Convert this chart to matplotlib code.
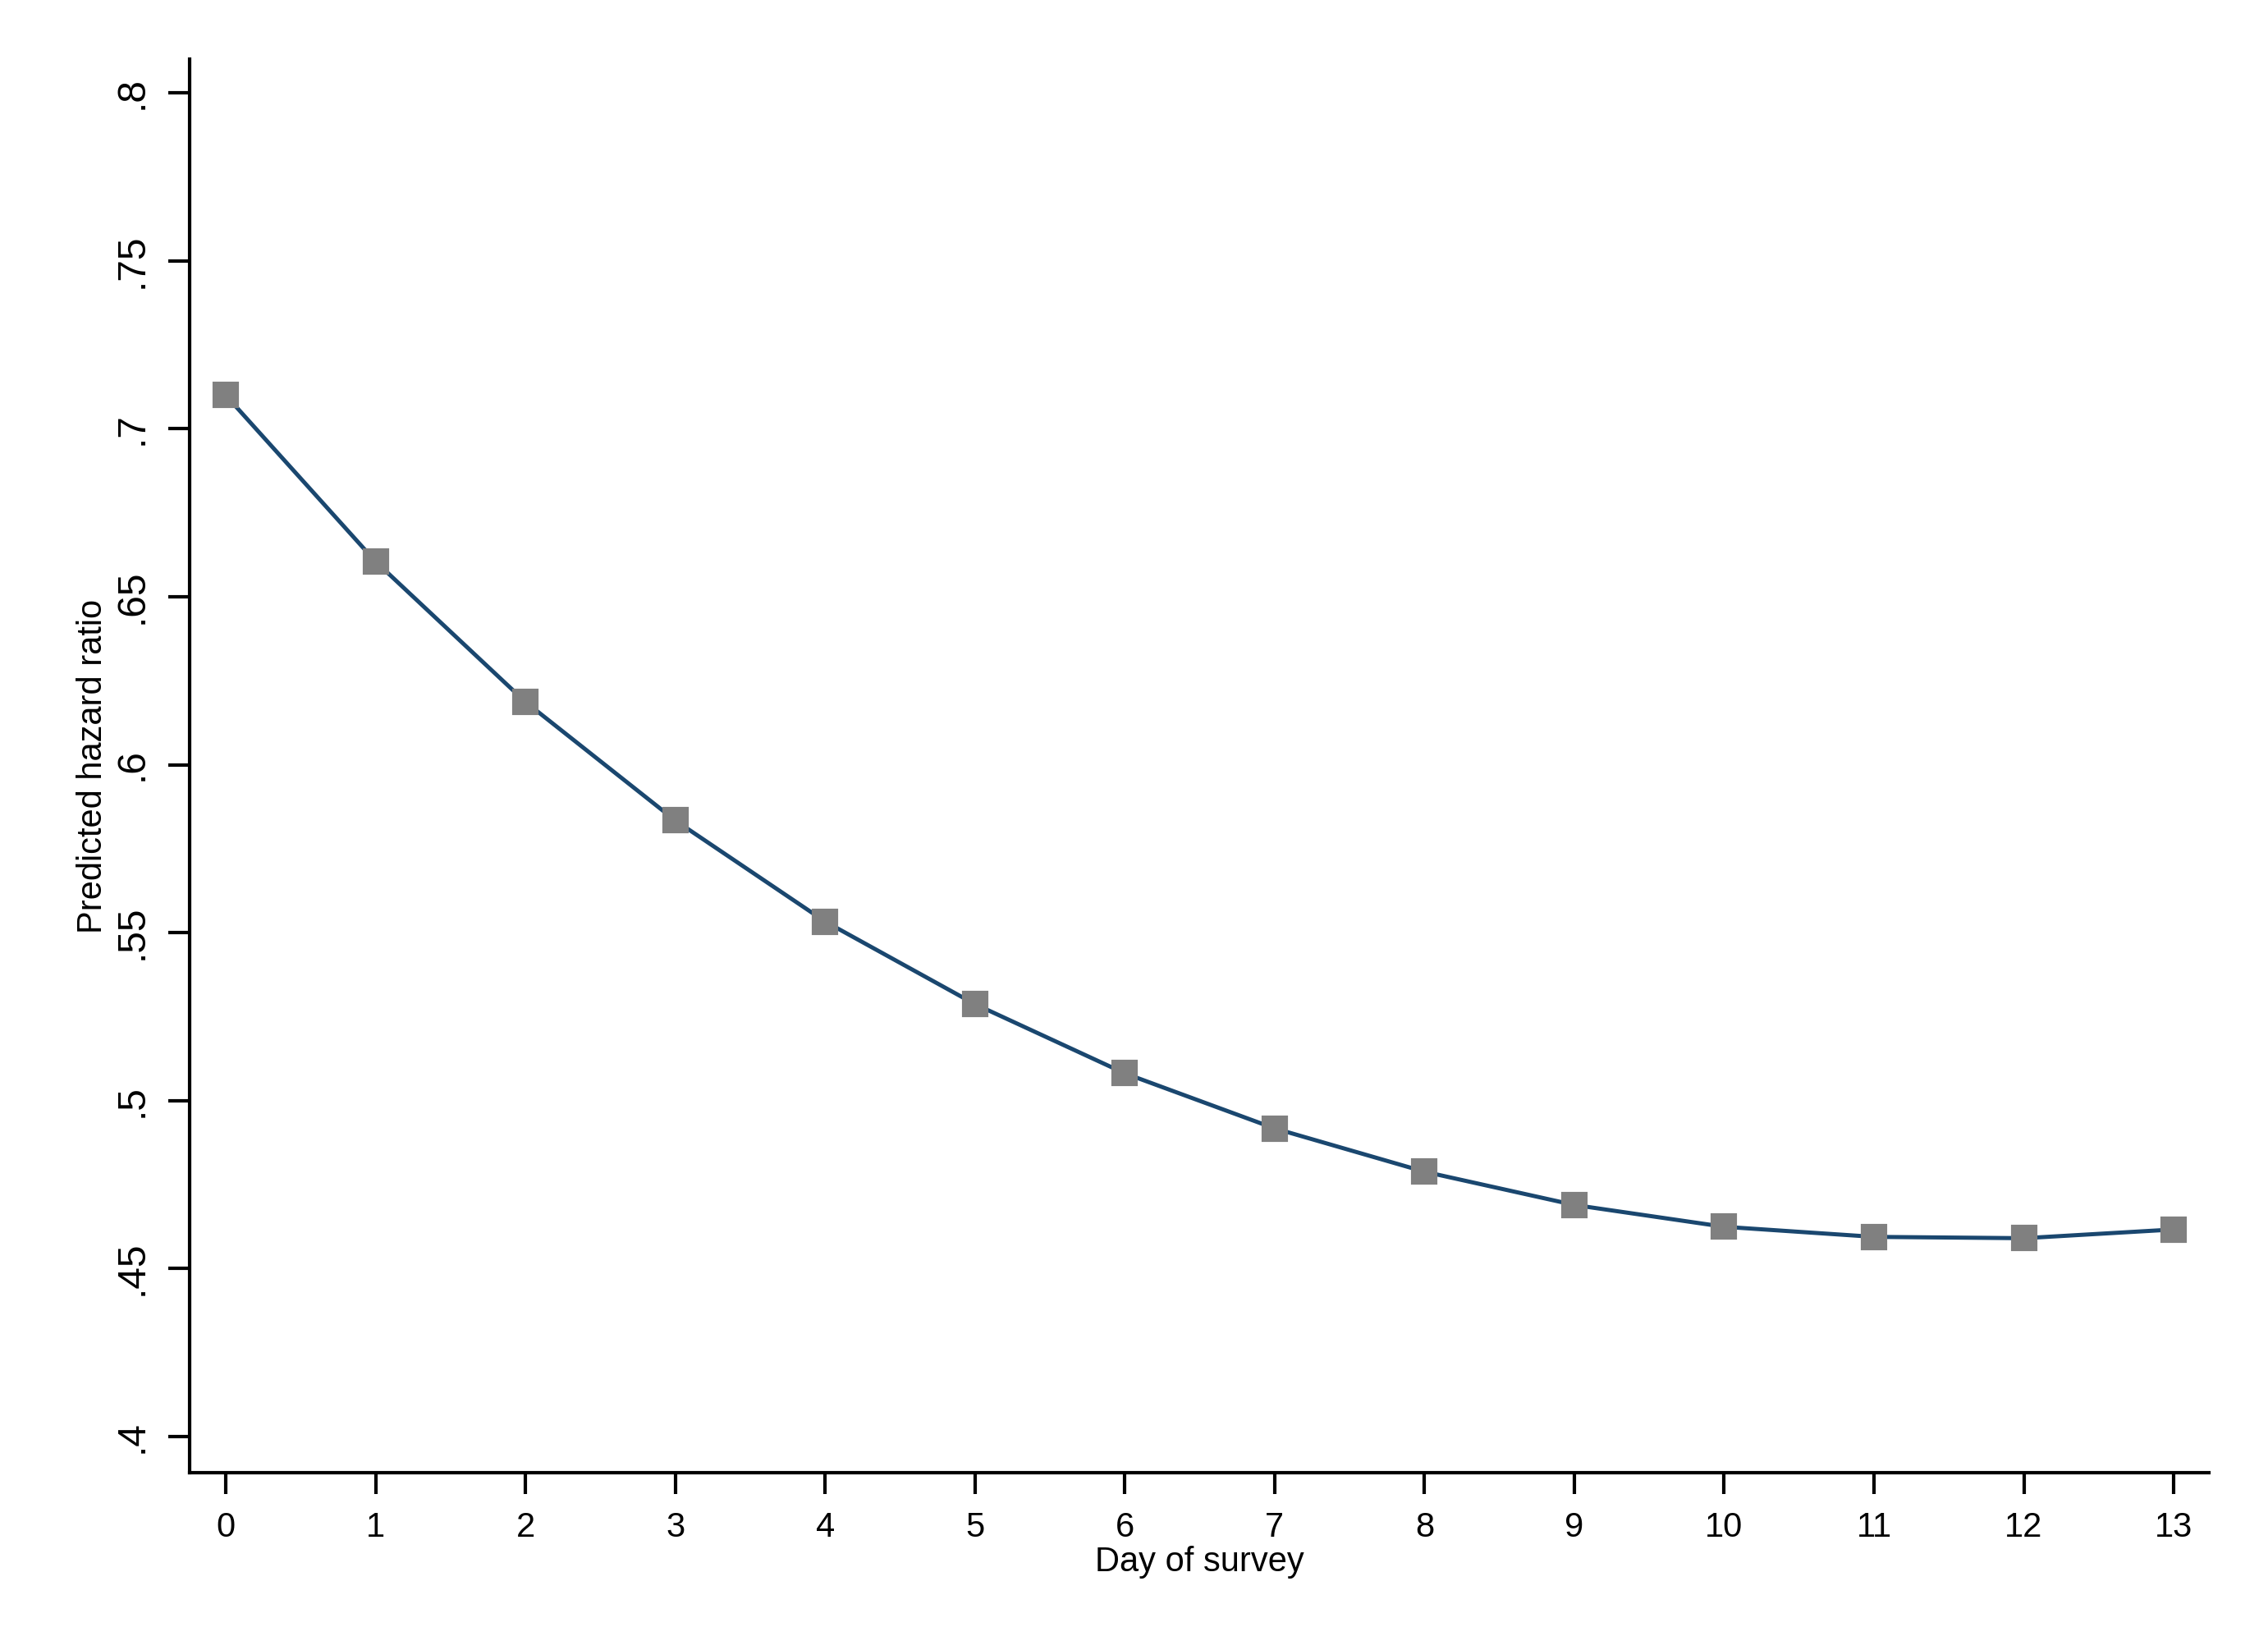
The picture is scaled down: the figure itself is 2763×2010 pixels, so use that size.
import matplotlib
matplotlib.use('Agg')
import matplotlib.pyplot as plt

# 데이터
days = [0, 1, 2, 3, 4, 5, 6, 7, 8, 9, 10, 11, 12, 13]
hazard = [0.710, 0.6605, 0.6187, 0.5834, 0.5533, 0.5287, 0.5081,
          0.4917, 0.4788, 0.4689, 0.4624, 0.4594, 0.4590, 0.4616]
y_ticks = [0.4, 0.45, 0.5, 0.55, 0.6, 0.65, 0.7, 0.75, 0.8]
y_tick_labels = ['.4', '.45', '.5', '.55', '.6', '.65', '.7', '.75', '.8']

plt.rcParams['font.family'] = ['Liberation Sans', 'DejaVu Sans']

fig = plt.figure(figsize=(2763 / 300, 2010 / 300), dpi=300)
ax = fig.add_axes([0.0836, 0.1075, 0.974 - 0.0836, 0.964 - 0.1075])

# 선 + 사각 마커
ax.plot(days, hazard, color='#1a476f', linewidth=1.2, zorder=2)
ax.plot(days, hazard, linestyle='none', marker='s', markersize=6.6,
        markerfacecolor='#808080', markeredgecolor='#808080', zorder=3)

ax.set_xlim(-0.241, 13.236)
ax.set_ylim(0.3892, 0.810)
ax.set_xticks(days)
ax.set_xticklabels([str(d) for d in days], fontsize=10)
ax.set_yticks(y_ticks)
ax.set_yticklabels(y_tick_labels, fontsize=11.5, rotation=90, va='center')

ax.spines['top'].set_visible(False)
ax.spines['right'].set_visible(False)
ax.spines['left'].set_linewidth(1.0)
ax.spines['bottom'].set_linewidth(1.0)
ax.tick_params(axis='both', length=6.3, width=1.0, color='black')
ax.tick_params(axis='x', pad=5)
ax.tick_params(axis='y', pad=5)

ax.set_xlabel('Day of survey', fontsize=10, labelpad=0.5)
ax.set_ylabel('Predicted hazard ratio', fontsize=10, labelpad=1.5)

fig.savefig('out.png', dpi=300, facecolor='white')
